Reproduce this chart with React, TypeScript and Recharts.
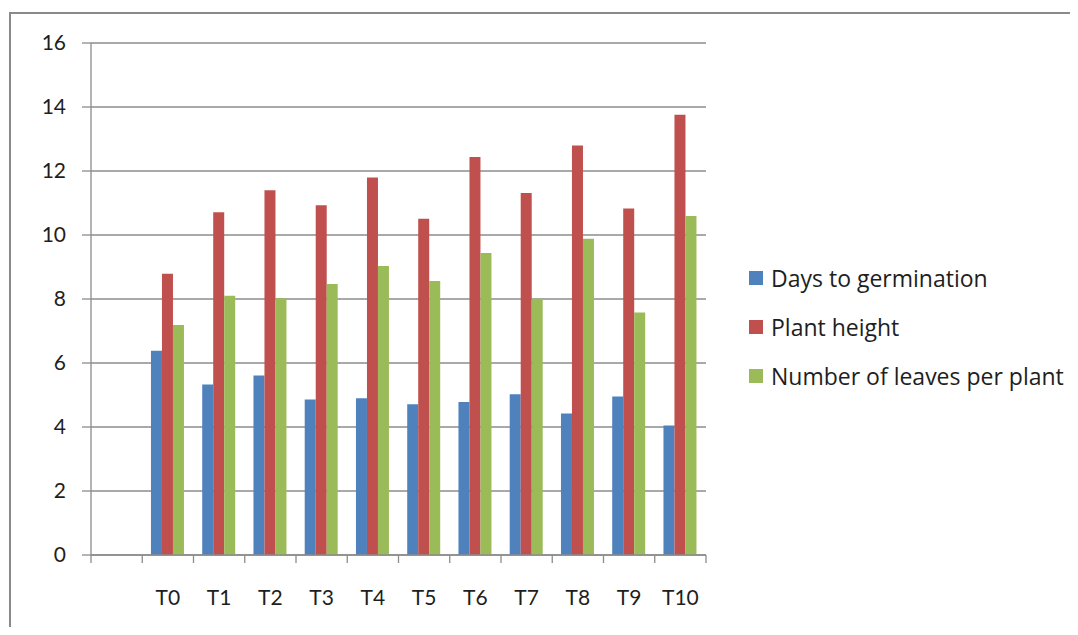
import React from "react";
import { BarChart, Bar, XAxis, YAxis, CartesianGrid } from "recharts";

const categories = ["", "T0", "T1", "T2", "T3", "T4", "T5", "T6", "T7", "T8", "T9", "T10"];
const daysToGermination = [null, 6.38, 5.33, 5.61, 4.86, 4.9, 4.71, 4.78, 5.02, 4.42, 4.95, 4.05];
const plantHeight = [null, 8.79, 10.71, 11.4, 10.93, 11.8, 10.51, 12.44, 11.31, 12.8, 10.83, 13.76];
const leavesPerPlant = [null, 7.19, 8.1, 8.02, 8.47, 9.03, 8.56, 9.44, 8.01, 9.88, 7.58, 10.59];
const yTicks = [0, 2, 4, 6, 8, 10, 12, 14, 16];

const seriesNames = ["Days to germination", "Plant height", "Number of leaves per plant"];
const seriesKeys = ["days", "height", "leaves"];
const seriesColors = ["#4F81BD", "#C0504D", "#9BBB59"];

const data = categories.map((c, i) => ({
  name: c,
  days: daysToGermination[i],
  height: plantHeight[i],
  leaves: leavesPerPlant[i],
}));

const W = 1070;
const H = 619;
const MARGIN = { top: 35, right: 372, bottom: 22, left: 0 };
const Y_AXIS_W = 83;
const X_TICK_MARGIN = 35;
const FONT = "Lato, 'Open Sans', sans-serif";
const LEGEND_FONT = "'Open Sans', Lato, sans-serif";
const GRID = "#8c8c8c";
const TEXT = "#1e1e1e";

const plotWidth = W - MARGIN.left - MARGIN.right - Y_AXIS_W;
const band = plotWidth / categories.length;

function XTick(props: any) {
  const { x, y, payload, index } = props;
  const axisY = y - X_TICK_MARGIN;
  const isLast = index === categories.length - 1;
  return (
    <g>
      <line x1={x - band / 2} x2={x - band / 2} y1={axisY} y2={axisY + 8} stroke={GRID} strokeWidth={1.3} />
      {isLast && (
        <line x1={x + band / 2} x2={x + band / 2} y1={axisY} y2={axisY + 8} stroke={GRID} strokeWidth={1.3} />
      )}
      <text x={x} y={y} dy="0.71em" textAnchor="middle" fill={TEXT} fontSize={21} fontFamily={FONT}>
        {payload.value}
      </text>
    </g>
  );
}

export default function App() {
  return (
    <div style={{ position: "relative", width: W, height: H, background: "#fff" }}>
      <div
        style={{
          position: "absolute",
          left: 1,
          top: 4,
          width: W - 1,
          height: H - 4,
          borderTop: "2px solid #8a8a8a",
          borderLeft: "2px solid #8a8a8a",
          boxSizing: "border-box",
        }}
      />
      <div style={{ position: "absolute", left: 0, top: 0 }}>
        <BarChart width={W} height={H} data={data} margin={MARGIN} barCategoryGap="17%" barGap={0}>
          <CartesianGrid vertical={false} stroke={GRID} strokeWidth={1.3} />
          <XAxis
            dataKey="name"
            interval={0}
            tickSize={0}
            tickMargin={X_TICK_MARGIN}
            tick={<XTick />}
            axisLine={{ stroke: GRID, strokeWidth: 1.3 }}
            tickLine={false}
            height={50}
          />
          <YAxis
            width={Y_AXIS_W}
            domain={[0, 16]}
            ticks={yTicks}
            interval={0}
            tickSize={9}
            tickMargin={16}
            axisLine={{ stroke: GRID, strokeWidth: 1.3 }}
            tickLine={{ stroke: GRID, strokeWidth: 1.3 }}
            tick={{ fill: TEXT, fontSize: 21, fontFamily: FONT }}
          />
          {seriesKeys.map((k, i) => (
            <Bar key={k} dataKey={k} name={seriesNames[i]} fill={seriesColors[i]} isAnimationActive={false} />
          ))}
        </BarChart>
      </div>
      <div style={{ position: "absolute", left: 741, top: 245, fontFamily: LEGEND_FONT, fontSize: 23, color: TEXT }}>
        {seriesNames.map((n, i) => (
          <div key={n} style={{ display: "flex", alignItems: "center", height: 49, whiteSpace: "nowrap" }}>
            <span style={{ display: "inline-block", width: 14, height: 14, background: seriesColors[i], marginRight: 8 }} />
            <span>{n}</span>
          </div>
        ))}
      </div>
    </div>
  );
}
